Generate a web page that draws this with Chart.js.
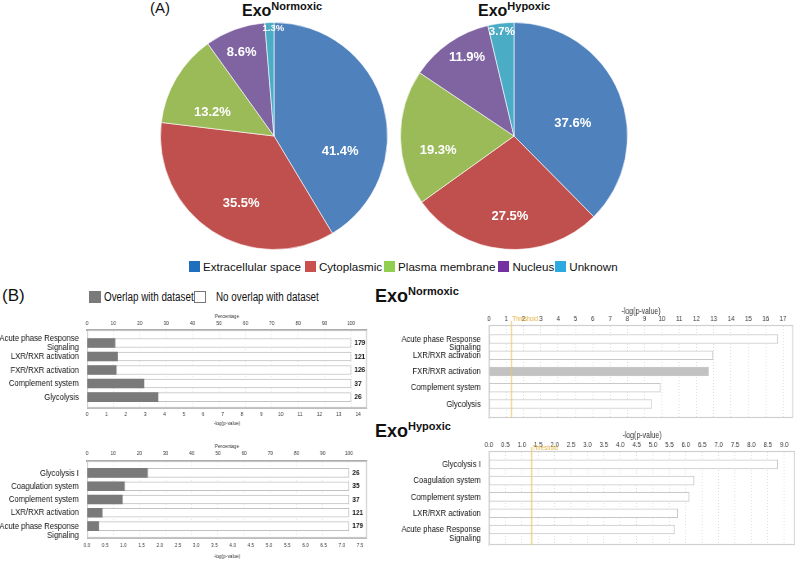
<!DOCTYPE html>
<html>
<head>
<meta charset="utf-8">
<title>Exosome proteins: localisation and canonical pathways</title>
<script src="https://cdn.jsdelivr.net/npm/chart.js@4.4.1/dist/chart.umd.min.js"></script>
<style>
  html, body { margin: 0; padding: 0; background: #fff; }
  body { position: relative; width: 800px; height: 561px; overflow: hidden;
         font-family: "Liberation Sans", Arial, sans-serif; color: #111; }
  /* panel B is a horizontally squeezed IPA screenshot: draw wide, then squeeze */
  .layer { position: absolute; left: 0; top: 0; width: 976px; height: 561px;
           transform: scaleX(0.819672); transform-origin: 0 0; }
  .pie { position: absolute; top: 21px; width: 230px; height: 230px; }
  .tag { position: absolute; line-height: 1; }
  .exo { position: absolute; font-weight: bold; line-height: 1; white-space: nowrap; }
  .exo span { position: relative; }
  .legend { position: absolute; display: flex; align-items: center; white-space: nowrap; line-height: 1; }
  .legend i { display: inline-block; box-sizing: border-box; flex: none; }
  .key { position: absolute; box-sizing: border-box; }
  .keytext { position: absolute; white-space: nowrap; line-height: 1; font-size: 12px;
             transform: scaleX(0.819672); transform-origin: 0 50%; }
</style>
</head>
<body>
<div class="tag" style="left:150px; top:0px; font-size:15px;">(A)</div>
<div class="tag" style="left:2px; top:287px; font-size:17px;">(B)</div>

<div class="exo" style="left:242px; top:3px; font-size:16px;">Exo<span style="font-size:11px; top:-6px;">Normoxic</span></div>
<div class="exo" style="left:478px; top:3px; font-size:16px;">Exo<span style="font-size:11px; top:-6px;">Hypoxic</span></div>
<div class="exo" style="left:375px; top:287px; font-size:18px;">Exo<span style="font-size:11px; top:-7px;">Normoxic</span></div>
<div class="exo" style="left:375px; top:422px; font-size:18px;">Exo<span style="font-size:11px; top:-7px;">Hypoxic</span></div>

<div class="pie" style="left:159px;"><canvas id="pie-normoxic"></canvas></div>
<div class="pie" style="left:399px;"><canvas id="pie-hypoxic"></canvas></div>
<div id="legend-compartments" class="legend" style="left:189px; top:261px; font-size:11.6px;"></div>
<div id="legend-overlap"></div>

<div class="layer"><canvas id="overlap-normoxic"></canvas></div>
<div class="layer"><canvas id="overlap-hypoxic"></canvas></div>
<div class="layer"><canvas id="pvalue-normoxic"></canvas></div>
<div class="layer"><canvas id="pvalue-hypoxic"></canvas></div>

<script>
// ---------------------------- Data ----------------------------

const compartments = ['Extracellular space', 'Cytoplasmic', 'Plasma membrane', 'Nucleus', 'Unknown'];
const normoxicShare = [41.4, 35.5, 13.2, 8.6, 1.3];
const hypoxicShare = [37.6, 27.5, 19.3, 11.9, 3.7];

const overlapLegend = ['Overlap with dataset', 'No overlap with dataset'];

const normoxicPathways = ['Acute phase Response\nSignaling', 'LXR/RXR activation', 'FXR/RXR activation', 'Complement system', 'Glycolysis'];
const normoxicOverlapPct = [10.6, 11.6, 11.1, 21.6, 26.9];
const normoxicPathwaySize = [179, 121, 126, 37, 26];
const normoxicLogP = [16.7, 12.95, 12.7, 9.9, 9.4];
const normoxicHighlight = 'FXR/RXR activation';

const hypoxicPathways = ['Glycolysis I', 'Coagulation system', 'Complement system', 'LXR/RXR activation', 'Acute phase Response\nSignaling'];
const hypoxicOverlapPct = [23.1, 14.3, 13.5, 5.8, 4.5];
const hypoxicPathwaySize = [26, 35, 37, 121, 179];
const hypoxicLogP = [8.8, 6.25, 6.1, 5.75, 5.65];

const fullPathway = 100;          // every pathway bar spans 100 %
const significanceThreshold = 1.3; // -log(0.05)

// ---------------------------- Styles ----------------------------

const sliceColors = ['#4f81bd', '#c0504d', '#9bbb59', '#8064a2', '#4bacc6'];
const legendColors = ['#1f6fbf', '#c9504c', '#92cf50', '#7332a0', '#2ba9e0'];
// label nudges for the pie (degrees off the slice middle, fraction of radius)
const normoxicLabelSpots = [[29, 0.6], [-7, 0.66], [-10, 0.58], [-1, 0.79], [2, 0.95]];
const hypoxicLabelSpots = [[10, 0.53], [-2, 0.71], [-10, 0.68], [4, 0.81], [0, 0.92]];

const SQUEEZE = 800 / 976;
const sx = x => x / SQUEEZE;   // page x -> x inside a squeezed layer
const LAYER_W = 976;

const SANS = '"Liberation Sans", Arial, sans-serif';

Chart.defaults.font.family = SANS;
Chart.defaults.color = '#222';
Chart.defaults.animation = false;
Chart.defaults.events = [];
Chart.defaults.maintainAspectRatio = false;
Chart.defaults.plugins.legend.display = false;
Chart.defaults.plugins.tooltip.enabled = false;

// ---------------------------- Legends ----------------------------

const compLegend = document.getElementById('legend-compartments');
const compGaps = [4, 2, 3, 1, 0];
compartments.forEach((name, i) => {
    const sq = document.createElement('i');
    Object.assign(sq.style, { width: '11px', height: '11px', background: legendColors[i] });
    const txt = document.createElement('span');
    txt.textContent = name;
    txt.style.marginLeft = '3px';
    txt.style.marginRight = compGaps[i] + 'px';
    compLegend.append(sq, txt);
});

// overlap legend: swatch x, text x (page coords)
const overlapKeys = [
    { sq: 89, txt: 104, style: { background: '#7a7a7a' } },
    { sq: 194, txt: 216, style: { background: '#fff', border: '1px solid #777' } }
];
const ovLegend = document.getElementById('legend-overlap');
overlapLegend.forEach((name, i) => {
    const k = overlapKeys[i];
    const sq = document.createElement('div');
    sq.className = 'key';
    Object.assign(sq.style, { left: k.sq + 'px', top: '291px', width: '12px', height: '12px' }, k.style);
    const txt = document.createElement('div');
    txt.className = 'keytext';
    txt.textContent = name;
    Object.assign(txt.style, { left: k.txt + 'px', top: '291px' });
    ovLegend.append(sq, txt);
});

// ---------------------------- Pies ----------------------------

function sliceLabels(spots) {
    return {
        id: 'sliceLabels',
        afterDatasetsDraw(chart) {
            const ctx = chart.ctx;
            const values = chart.data.datasets[0].data;
            ctx.save();
            ctx.fillStyle = '#fff';
            ctx.textAlign = 'center';
            ctx.textBaseline = 'middle';
            chart.getDatasetMeta(0).data.forEach((arc, i) => {
                const v = values[i];
                const p = arc.getProps(['x', 'y', 'startAngle', 'endAngle', 'outerRadius'], true);
                const ang = (p.startAngle + p.endAngle) / 2 + spots[i][0] * Math.PI / 180;
                const r = p.outerRadius * spots[i][1];
                const size = v < 2 ? 9.5 : v < 5 ? 11.5 : 13;
                ctx.font = `bold ${size}px ${SANS}`;
                ctx.fillText(v.toFixed(1) + '%', p.x + Math.cos(ang) * r, p.y + Math.sin(ang) * r);
            });
            ctx.restore();
        }
    };
}

function pieChart(id, values, spots) {
    new Chart(document.getElementById(id), {
        type: 'pie',
        data: {
            labels: compartments,
            datasets: [{
                data: values,
                backgroundColor: sliceColors,
                borderColor: 'rgba(255,255,255,0.6)',
                borderWidth: 1
            }]
        },
        options: { layout: { padding: 1 } },
        plugins: [sliceLabels(spots)]
    });
}

pieChart('pie-normoxic', normoxicShare, normoxicLabelSpots);
pieChart('pie-hypoxic', hypoxicShare, hypoxicLabelSpots);

// ---------------------------- Bar helpers ----------------------------

function frame(color) {
    return {
        id: 'frame',
        beforeDatasetsDraw(chart) {
            const { ctx, chartArea: a } = chart;
            ctx.save();
            ctx.strokeStyle = color;
            ctx.lineWidth = 1.2;
            ctx.strokeRect(a.left + 0.5, a.top + 0.5, a.width - 1, a.height - 1);
            ctx.restore();
        }
    };
}

function sizeLabels(sizes) {
    return {
        id: 'sizeLabels',
        afterDatasetsDraw(chart) {
            const { ctx } = chart;
            const xs = chart.scales.x, ys = chart.scales.y;
            ctx.save();
            ctx.fillStyle = '#111';
            ctx.font = `bold 8px ${SANS}`;
            ctx.textBaseline = 'middle';
            sizes.forEach((n, i) => ctx.fillText(String(n), xs.getPixelForValue(fullPathway) + 4, ys.getPixelForValue(i)));
            ctx.restore();
        }
    };
}

function thresholdMarker(value, labelDy) {
    return {
        id: 'threshold',
        afterDatasetsDraw(chart) {
            const { ctx, chartArea } = chart;
            const x = chart.scales.x.getPixelForValue(value);
            ctx.save();
            ctx.strokeStyle = 'rgba(238, 196, 100, 0.7)';
            ctx.lineWidth = 1.8;
            ctx.beginPath();
            ctx.moveTo(x, chartArea.top - 4);
            ctx.lineTo(x, chartArea.bottom);
            ctx.stroke();
            ctx.fillStyle = '#e2b13e';
            ctx.font = `7px ${SANS}`;
            ctx.textBaseline = 'middle';
            ctx.fillText('Threshold', x + 1, chartArea.top + labelDy);
            ctx.restore();
        }
    };
}

// wrapped pathway names: 'hang' puts the first line on the bar, 'center' centres the block
function pathwayLines(name, wrap) {
    const lines = (name || '').split('\n');
    return lines.length > 1 && wrap === 'hang' ? [''].concat(lines) : lines;
}

function pathwayAxis(o) {
    return {
        type: 'linear',
        reverse: true,
        offset: false,
        min: o.yMin,
        max: o.yMax,
        ticks: {
            stepSize: 1, includeBounds: false, autoSkip: false, padding: 2,
            font: { family: SANS, size: 9.4, lineHeight: 0.95 }, color: '#111',
            callback: v => pathwayLines(o.names[v], o.wrap)
        },
        grid: { display: false, offset: false },
        border: { color: o.axisColor },
        afterFit: s => { s.width = sx(o.area.l); }
    };
}

const tinyLeft = { family: SANS, size: 5.8, lineHeight: 1.2 };
const tinyRight = { family: SANS, size: 7.5, lineHeight: 1.2 };

// IPA "overlap" chart: grey share of the pathway found in the dataset
function overlapChart(id, o) {
    new Chart(document.getElementById(id), {
        type: 'bar',
        data: {
            datasets: [{
                label: overlapLegend[0],
                data: o.overlap.map((v, i) => ({ x: v, y: i })),
                backgroundColor: '#7a7a7a',
                borderWidth: 0,
                barThickness: 9,
                grouped: false
            }, {
                label: overlapLegend[1],
                data: o.overlap.map((v, i) => ({ x: fullPathway, y: i })),
                backgroundColor: '#ffffff',
                borderColor: '#c2c2c2',
                borderWidth: 1,
                borderSkipped: false,
                barThickness: 9,
                grouped: false
            }]
        },
        options: {
            indexAxis: 'y',
            layout: { padding: { left: 0, right: LAYER_W - sx(o.area.r), top: o.area.t - o.topH, bottom: 561 - o.area.b - o.botH } },
            scales: {
                x: {
                    type: 'linear', position: 'top', min: 0, max: o.pctMax,
                    ticks: { stepSize: 10, includeBounds: false, autoSkip: false, maxRotation: 0, maxTicksLimit: 100,
                             padding: o.topTickPad, font: tinyLeft, color: '#333' },
                    grid: { color: '#e3e3e3', drawTicks: false },
                    border: { color: '#a9a9a9', width: 2, dash: [1, 2] },
                    title: { display: true, text: 'Percentage', font: tinyLeft, color: '#333', padding: { top: o.topTitlePad, bottom: 0 } },
                    afterFit: s => { s.height = o.topH; }
                },
                x2: {
                    type: 'linear', position: 'bottom', min: 0, max: o.logMax,
                    ticks: { stepSize: o.logStep, includeBounds: false, autoSkip: false, maxRotation: 0, maxTicksLimit: 100,
                             padding: o.botTickPad, font: tinyLeft, color: '#333', callback: v => v.toFixed(o.logDigits) },
                    grid: { display: false, drawTicks: false },
                    border: { color: '#bdbdbd' },
                    title: { display: true, text: '-log(p-value)', font: tinyLeft, color: '#333', padding: { top: 0, bottom: o.botTitlePad } },
                    afterFit: s => { s.height = o.botH; }
                },
                y: pathwayAxis(o)
            }
        },
        plugins: [frame('#c6c6c6'), sizeLabels(o.sizes)]
    });
}

// IPA canonical pathway chart: -log(p-value) bars with threshold
function pValueChart(id, o) {
    new Chart(document.getElementById(id), {
        type: 'bar',
        data: {
            datasets: [{
                label: '-log(p-value)',
                data: o.logP.map((v, i) => ({ x: v, y: i })),
                backgroundColor: o.names.map(n => n === o.highlight ? '#c2c2c2' : '#ffffff'),
                borderColor: '#c8c8c8',
                borderWidth: 1,
                borderSkipped: false,
                barThickness: 9
            }]
        },
        options: {
            indexAxis: 'y',
            layout: { padding: { left: 0, right: LAYER_W - sx(o.area.r), top: o.area.t - o.topH, bottom: 561 - o.area.b } },
            scales: {
                x: {
                    type: 'linear', position: 'top', min: 0, max: o.max,
                    ticks: { stepSize: o.step, includeBounds: false, autoSkip: false, maxRotation: 0, maxTicksLimit: 100,
                             padding: 2, font: tinyRight, color: '#333', callback: v => v.toFixed(o.digits) },
                    grid: { color: '#d8d8d8', drawTicks: false },
                    border: { color: '#cfcfcf', dash: [1, 2] },
                    title: { display: true, text: '-log(p-value)', font: { family: SANS, size: 8.5, lineHeight: 1.2 }, color: '#333',
                             padding: { top: o.titlePad, bottom: 0 } },
                    afterFit: s => { s.height = o.topH; }
                },
                y: pathwayAxis(o)
            }
        },
        plugins: [frame('#d0d0d0'), thresholdMarker(significanceThreshold, o.thresholdDy)]
    });
}

// ---------------------------- Panel B ----------------------------

overlapChart('overlap-normoxic', {
    names: normoxicPathways, overlap: normoxicOverlapPct, sizes: normoxicPathwaySize, wrap: 'center',
    area: { l: 87, r: 367, t: 330, b: 408 }, yMin: -0.96, yMax: 4.81, axisColor: '#b5b5b5',
    pctMax: 106.06, logMax: 14.46, logStep: 1, logDigits: 0,
    topH: 20, topTickPad: 3, topTitlePad: 3, botH: 20, botTickPad: 3, botTitlePad: 1
});

overlapChart('overlap-hypoxic', {
    names: hypoxicPathways, overlap: hypoxicOverlapPct, sizes: hypoxicPathwaySize, wrap: 'hang',
    area: { l: 87, r: 367, t: 461, b: 538 }, yMin: -0.9, yMax: 4.9, axisColor: '#b5b5b5',
    pctMax: 106.9, logMax: 7.69, logStep: 0.5, logDigits: 1,
    topH: 20, topTickPad: 4, topTitlePad: 2, botH: 23, botTickPad: 4, botTitlePad: 1
});

pValueChart('pvalue-normoxic', {
    names: normoxicPathways, logP: normoxicLogP, highlight: normoxicHighlight, wrap: 'hang',
    area: { l: 489, r: 793, t: 325, b: 418 }, yMin: -0.86, yMax: 4.86, axisColor: '#cfcfcf',
    max: 17.58, step: 1, digits: 0, topH: 18, titlePad: 0, thresholdDy: -6
});

pValueChart('pvalue-hypoxic', {
    names: hypoxicPathways, logP: hypoxicLogP, highlight: null, wrap: 'hang',
    area: { l: 489, r: 795, t: 451, b: 545 }, yMin: -0.82, yMax: 4.95, axisColor: '#cfcfcf',
    max: 9.33, step: 0.5, digits: 1, topH: 21, titlePad: 1, thresholdDy: -3
});
</script>
</body>
</html>
